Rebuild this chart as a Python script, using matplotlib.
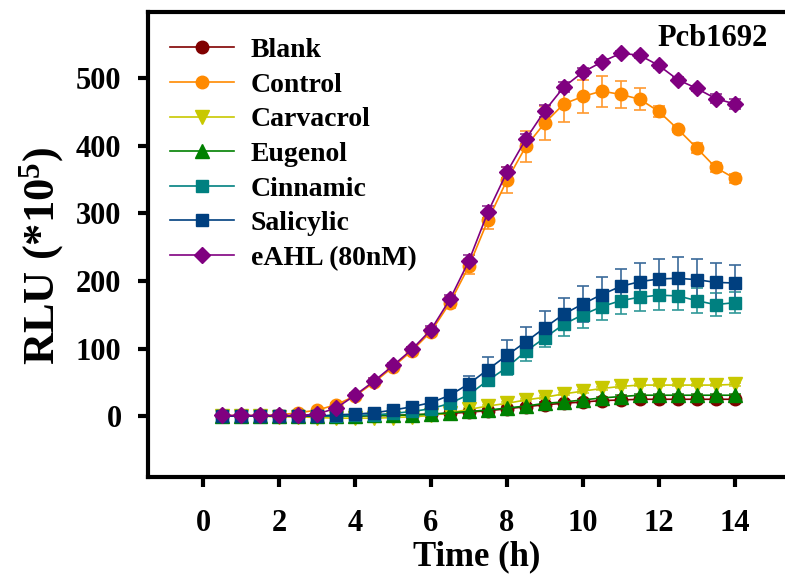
import matplotlib
matplotlib.use("Agg")
import matplotlib.pyplot as plt

plt.rcParams['font.family'] = ['Liberation Serif', 'DejaVu Serif']
plt.rcParams['font.weight'] = 'bold'
plt.rcParams['axes.labelweight'] = 'bold'
plt.rcParams['mathtext.fontset'] = 'custom'
plt.rcParams['mathtext.rm'] = 'Liberation Serif:bold'
plt.rcParams['mathtext.bf'] = 'Liberation Serif:bold'
plt.rcParams['mathtext.default'] = 'bf'

time_h = [0.5, 1.0, 1.5, 2.0, 2.5, 3.0, 3.5, 4.0, 4.5, 5.0, 5.5, 6.0, 6.5, 7.0,
          7.5, 8.0, 8.5, 9.0, 9.5, 10.0, 10.5, 11.0, 11.5, 12.0, 12.5, 13.0, 13.5, 14.0]

blank = [0, 0, 0, 0, 0, 0, 0, 0, 1, 1, 2, 3, 4, 6,
         8, 11, 14, 17, 19, 21, 23, 24, 25, 25, 25, 25, 25, 25]
blank_err = [1] * 28

control = [1, 1, 1, 2, 5, 9, 17, 30, 50, 73, 97, 125, 168, 222,
           290, 349, 399, 434, 462, 473, 481, 476, 469, 451, 425, 397, 368, 352]
control_err = [1, 1, 1, 1, 1, 1, 2, 3, 3, 4, 5, 6, 8, 11,
               13, 19, 23, 25, 27, 25, 23, 20, 16, 8, 5, 7, 7, 7]

carvacrol = [0, 0, 0, -1, -1, -2, -3, -3, -3, -2, -1, 1, 5, 10,
             15, 19, 24, 28, 33, 37, 41, 44, 46, 46, 46, 46, 46, 47]
carvacrol_err = [2] * 28

eugenol = [0, 0, 0, 0, 0, 0, 0, 0, 1, 1, 2, 3, 5, 7,
           9, 12, 15, 19, 21, 24, 27, 29, 31, 31, 31, 31, 31, 31]
eugenol_err = [2] * 28

cinnamic = [0, 0, 0, 0, 0, 0, 0, 1, 2, 4, 7, 11, 19, 32,
            53, 72, 96, 116, 136, 150, 162, 171, 176, 179, 178, 171, 165, 168]
cinnamic_err = [1, 1, 1, 1, 1, 1, 1, 1, 1, 2, 2, 2, 3, 6,
                8, 11, 15, 14, 17, 19, 19, 20, 21, 22, 21, 19, 17, 16]

salicylic = [0, 0, 0, 0, 0, 0, 2, 3, 5, 9, 14, 20, 31, 48,
             69, 90, 110, 131, 151, 166, 180, 192, 199, 203, 204, 202, 198, 197]
salicylic_err = [1, 1, 1, 1, 1, 1, 1, 1, 2, 2, 2, 3, 6, 12,
                 18, 22, 22, 24, 24, 27, 26, 26, 28, 30, 31, 30, 28, 27]

eahl = [1, 1, 1, 1, 1, 3, 12, 31, 52, 75, 99, 128, 173, 230,
        302, 361, 410, 452, 487, 509, 524, 537, 534, 519, 498, 485, 470, 462]
eahl_err = [1, 1, 1, 1, 1, 1, 2, 4, 4, 4, 4, 5, 7, 9,
            9, 8, 8, 9, 7, 6, 5, 4, 4, 4, 4, 4, 6, 7]

series = [
    ("Blank", blank, blank_err, "#800000", "#a03030", "o", 9),
    ("Control", control, control_err, "#ff8a00", "#ff9a30", "o", 9),
    ("Carvacrol", carvacrol, carvacrol_err, "#c8c800", "#d0d030", "v", 10),
    ("Eugenol", eugenol, eugenol_err, "#008000", "#309030", "^", 10),
    ("Cinnamic", cinnamic, cinnamic_err, "#008080", "#309898", "s", 8.5),
    ("Salicylic", salicylic, salicylic_err, "#003f7f", "#3a6a9a", "s", 8.5),
    ("eAHL (80nM)", eahl, eahl_err, "#800080", "#903090", "D", 8.5),
]

fig = plt.figure(figsize=(7.85, 5.79), dpi=100)
ax = fig.add_axes([148 / 785, 102 / 579, 637 / 785, 465 / 579])

for name, vals, errs, col, ecol, mk, ms in series:
    ax.errorbar(time_h, vals, yerr=errs, color=col, ecolor=ecol, marker=mk,
                markersize=ms, linewidth=1.2, elinewidth=1.2, capsize=4.5,
                capthick=1.2, label=name)

ax.set_xlim(-1.46, 15.33)
ax.set_ylim(-90, 598)
ax.set_xticks([0, 2, 4, 6, 8, 10, 12, 14])
ax.set_yticks([0, 100, 200, 300, 400, 500])

for side in ['left', 'top', 'bottom']:
    ax.spines[side].set_linewidth(3)
ax.spines['right'].set_visible(False)
ax.tick_params(axis='both', direction='out', length=7, width=3, labelsize=22)
ax.tick_params(axis='x', pad=16)
ax.tick_params(axis='y', pad=12)

ax.set_xlabel("Time (h)", fontsize=25)
ax.set_ylabel("RLU (*10$^{5}$)", fontsize=32)
ax.xaxis.set_label_coords(0.516, -0.137)
ax.yaxis.set_label_coords(-0.128, 0.475)

ax.text(0.887, 0.944, "Pcb1692", transform=ax.transAxes, fontsize=22,
        fontweight='bold', ha='center', va='center')

handles, labels = ax.get_legend_handles_labels()
handles = [h[0] for h in handles]
ax.legend(handles, labels, loc='upper left', bbox_to_anchor=(170 / 785, 0.935),
          bbox_transform=fig.transFigure, frameon=False, fontsize=20,
          handlelength=2.3, handletextpad=0.6, labelspacing=0.33,
          borderpad=0, borderaxespad=0)

fig.savefig("out.png", dpi=100)
